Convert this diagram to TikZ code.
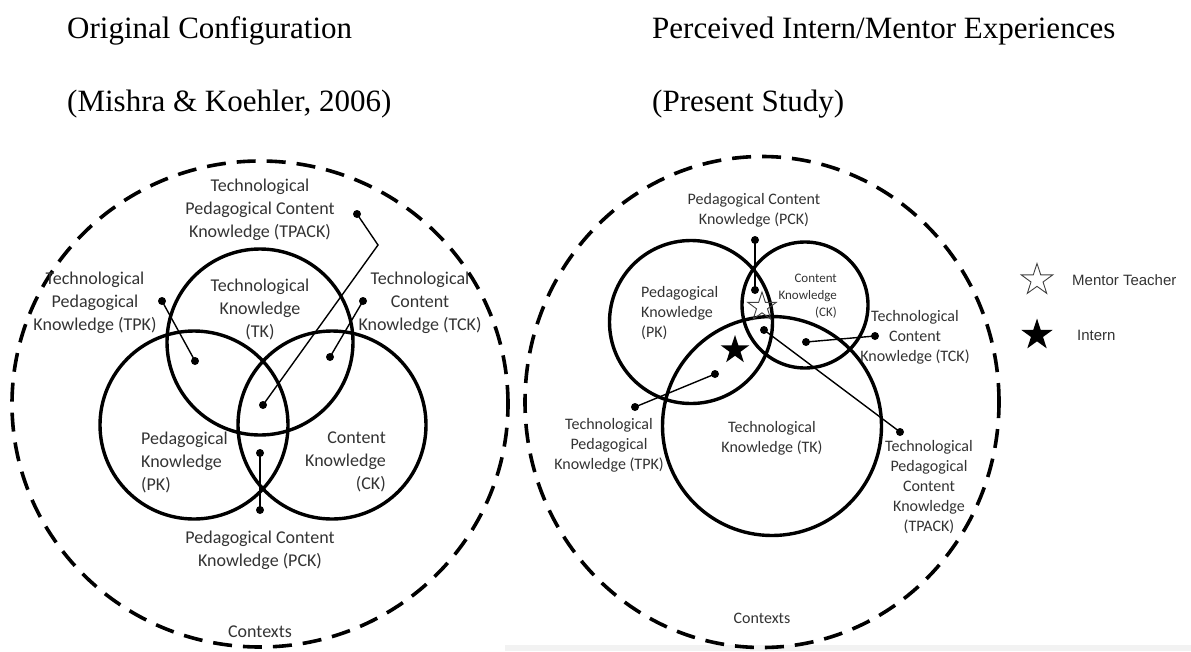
\documentclass[tikz,border=0pt]{standalone}
\usepackage{fontspec}
\setmainfont{Liberation Serif}
\newfontfamily\lblfont{Carlito}
\newfontfamily\legfont{Liberation Sans}
\usetikzlibrary{shapes.geometric, positioning}

\begin{document}
\begin{tikzpicture}[x=1pt, y=-1pt]
\tikzstyle{ctx}=[draw, line width=3.6pt, dash pattern=on 19pt off 11pt, inner sep=0pt]
\tikzstyle{venn}=[circle, draw, line width=3.4pt, inner sep=0pt]
\tikzstyle{dot}=[circle, fill, inner sep=0pt, minimum size=8pt]
\tikzstyle{lead}=[line width=1.4pt]
\tikzstyle{lbl}=[align=center, inner sep=0pt, text=black!80, font=\lblfont\fontsize{18}{23}\selectfont]
\tikzstyle{lbls}=[lbl, font=\lblfont\fontsize{16}{20}\selectfont]
\tikzstyle{title}=[anchor=base west, inner sep=0pt, font=\fontsize{31}{37}\selectfont]
\tikzstyle{mstar}=[star, star points=5, star point ratio=2.6, inner sep=0pt, minimum size=30pt]
\tikzstyle{legt}=[inner sep=0pt, text=black!80, font=\legfont\fontsize{15}{18}\selectfont]

\useasboundingbox (0,0) rectangle (1191,651);
\fill[black!5] (505,645) rectangle (1191,651);

% titles
\node[title] (ttlA) at (67,38) {Original Configuration};
\node[title] (ttlB) at (67,111) {(Mishra \& Koehler, 2006)};
\node[title] (ttlC) at (652,38) {Perceived Intern/Mentor Experiences};
\node[title] (ttlD) at (652,111) {(Present Study)};

% original configuration
\node[ctx, ellipse, minimum width=496pt, minimum height=486pt] (ctxA) at (260,404) {};
\node[venn, minimum size=186pt] (tkA) at (260,342) {};
\node[venn, minimum size=188pt] (pkA) at (194,425) {};
\node[venn, minimum size=188pt] (ckA) at (332,425) {};

\node[dot] (tpackA1) at (357,214) {};
\coordinate (tpackAb) at (378,245);
\node[dot] (tpackA2) at (263,405) {};
\node[dot] (tpkA1) at (162,301) {};
\node[dot] (tpkA2) at (195,361) {};
\node[dot] (tckA1) at (363,301) {};
\node[dot] (tckA2) at (330,357) {};
\node[dot] (pckA1) at (260,453) {};
\node[dot] (pckA2) at (260,510) {};

\draw[lead] (tpackA1.center) -- (tpackAb) -- (tpackA2.center);
\draw[lead] (tpkA1.center) -- (tpkA2.center);
\draw[lead] (tckA1.center) -- (tckA2.center);
\draw[lead] (pckA1.center) -- (pckA2.center);

\node[lbl] (tpackAt) at (260,210) {Technological\\Pedagogical Content\\Knowledge (TPACK)};
\node[lbl] (tkAt) at (260,309) {Technological\\Knowledge\\(TK)};
\node[lbl] (tpkAt) at (95,303) {Technological\\Pedagogical\\Knowledge (TPK)};
\node[lbl] (tckAt) at (420,303) {Technological\\Content\\Knowledge (TCK)};
\node[lbl, align=left, anchor=west] (pkAt) at (141,462) {Pedagogical\\Knowledge\\(PK)};
\node[lbl, align=right, anchor=east] (ckAt) at (386,462) {Content\\Knowledge\\(CK)};
\node[lbl] (pckAt) at (260,550) {Pedagogical Content\\Knowledge (PCK)};
\node[lbl] (ctxAt) at (260,632) {Contexts};

% present study
\node[ctx, ellipse, minimum width=474pt, minimum height=491pt] (ctxB) at (762,402) {};
\node[venn, minimum size=163pt] (pkB) at (691,322) {};
\node[venn, minimum size=126pt] (ckB) at (805,305) {};
\node[venn, minimum size=219pt] (tkB) at (772,426) {};

\node[dot] (pckB1) at (755,240) {};
\node[dot] (pckB2) at (755,290) {};
\node[dot] (tckB1) at (875,336) {};
\node[dot] (tckB2) at (806,342) {};
\node[dot] (tpkB1) at (635,407) {};
\node[dot] (tpkB2) at (715,374) {};
\node[dot] (tpackB1) at (764,330) {};
\node[dot] (tpackB2) at (900,432) {};

\draw[lead] (pckB1.center) -- (pckB2.center);
\draw[lead] (tckB1.center) -- (tckB2.center);
\draw[lead] (tpkB1.center) -- (tpkB2.center);
\draw[lead] (tpackB1.center) -- (tpackB2.center);

\node[mstar, draw=black!75, line width=0.9pt] (mentB) at (762,307) {};
\node[mstar, fill] (intB) at (735,350) {};

\node[lbls] (pckBt) at (754,210) {Pedagogical Content\\Knowledge (PCK)};
\node[lbls, align=left, anchor=west] (pkBt) at (641,313) {Pedagogical\\Knowledge\\(PK)};
\node[lbl, align=right, anchor=east, font=\lblfont\fontsize{13}{17}\selectfont] (ckBt) at (837,296) {Content\\Knowledge\\(CK)};
\node[lbls] (tckBt) at (915,337) {Technological\\Content\\Knowledge (TCK)};
\node[lbls] (tkBt) at (772,438) {Technological\\Knowledge (TK)};
\node[lbls] (tpkBt) at (609,445) {Technological\\Pedagogical\\Knowledge (TPK)};
\node[lbls] (tpackBt) at (929,487) {Technological\\Pedagogical\\Content\\Knowledge\\(TPACK)};
\node[lbls] (ctxBt) at (762,618) {Contexts};

% legend
\node[mstar, draw=black!75, line width=0.9pt, minimum size=33pt] (legM) at (1037,280) {};
\node[mstar, fill, minimum size=33pt] (legI) at (1037,335) {};
\node[legt, right=35pt of legM.center] (legMt) {Mentor Teacher};
\node[legt, right=40pt of legI.center] (legIt) {Intern};
\end{tikzpicture}
\end{document}
